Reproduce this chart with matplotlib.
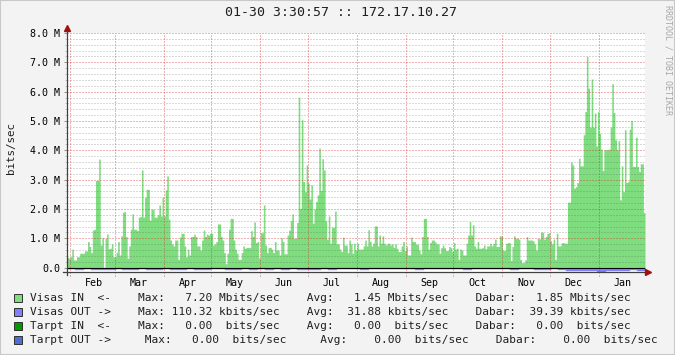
import numpy as np
import matplotlib
matplotlib.use("Agg")
import matplotlib.pyplot as plt
import matplotlib.dates as mdates
from matplotlib.patches import Rectangle

# daily "Visas IN" traffic, Mbits/sec (one value per day from 01-30)
visas_in = [
    0.35, 0.32, 0.37, 0.63, 0.26, 0.26, 0.37, 0.37, 0.49, 0.49, 0.49, 0.57, 0.57, 0.89, 0.72,
    0.51, 1.28, 1.31, 2.97, 2.97, 3.70, 0.77, 1.02, 0.00, 0.99, 1.15, 0.64, 0.66, 0.81, 0.37,
    0.37, 0.52, 0.89, 0.43, 1.08, 1.89, 1.91, 1.06, 0.32, 0.74, 1.31, 1.83, 1.31, 1.31, 1.26,
    1.72, 1.74, 3.33, 1.72, 2.40, 2.67, 2.67, 1.62, 1.99, 1.99, 1.72, 1.72, 1.80, 2.14, 1.76,
    2.40, 1.76, 2.65, 3.13, 1.65, 0.94, 0.81, 0.74, 0.94, 0.94, 0.28, 1.04, 1.17, 1.17,
    0.74, 0.37, 0.63, 0.43, 1.06, 1.06, 1.14, 1.06, 0.74, 0.74, 0.60, 0.94, 1.28, 1.06, 1.14,
    1.11, 1.17, 1.17, 0.77, 0.81, 0.89, 1.49, 1.49, 1.06, 0.94, 0.51, 0.13, 0.49, 1.31, 1.68,
    1.68, 0.94, 0.63, 0.49, 0.28, 0.28, 0.51, 0.74, 0.66, 0.69, 0.69, 0.68, 1.26, 1.06, 1.56,
    0.85, 0.89, 0.32, 1.19, 1.19, 2.14, 0.77, 0.51, 0.69, 0.69, 0.63, 0.51, 0.89, 0.60, 0.60,
    0.43, 1.02, 0.89, 0.47, 0.47, 1.11, 1.28, 1.60, 1.83, 1.00, 1.00, 1.54,
    5.81, 2.02, 5.04, 2.94, 2.59, 3.50, 2.88, 2.34, 2.82, 1.51, 2.00, 2.25, 2.48, 4.07, 2.63,
    3.71, 3.33, 1.60, 0.97, 1.76, 0.83, 1.38, 1.37, 1.93, 0.81, 0.81, 0.63, 0.55, 1.04, 0.77,
    0.77, 0.51, 0.94, 0.81, 0.49, 0.83, 0.60, 0.83, 0.63, 0.63, 0.63, 0.74, 0.94, 0.74, 1.29,
    0.90, 0.74, 0.83, 1.42, 1.42, 0.74, 1.11, 0.83, 1.08, 0.83, 0.77, 0.83, 0.83, 0.77, 0.81,
    0.69, 0.81, 0.66, 0.55, 0.55, 0.74, 0.89, 0.58, 0.74, 0.43, 0.43, 1.04, 0.89, 0.89,
    0.80, 0.80, 0.60, 0.47, 1.06, 1.68, 1.68, 1.06, 0.63, 0.85, 0.94, 0.94, 0.88, 0.81, 0.81,
    0.49, 0.68, 0.77, 0.68, 0.58, 0.58, 0.72, 0.68, 0.55, 0.85, 0.63, 0.66, 0.28, 0.63, 0.60,
    0.43, 0.43, 0.83, 1.11, 1.57, 1.11, 1.46, 0.74, 0.66, 0.89, 0.66, 0.66, 0.68, 0.77, 0.64,
    0.74, 0.74, 0.83, 0.74, 0.83, 0.97, 0.72, 0.72, 1.08, 1.08, 0.60, 0.58, 0.83, 0.85, 0.85,
    0.24, 0.72, 1.08, 1.00, 1.00, 0.97, 0.28, 0.17, 0.17, 0.26, 1.06, 0.94, 0.94,
    0.94, 0.91, 0.81, 0.60, 1.00, 0.98, 1.21, 1.21, 0.97, 1.06, 1.17, 1.19, 0.92, 0.81, 0.97,
    0.28, 1.17, 0.74, 0.74, 0.85, 0.85, 0.83, 0.83, 2.23, 2.23, 3.60, 3.50, 2.71, 2.76, 2.90,
    3.73, 3.47, 3.47, 4.53, 5.32, 7.20, 6.12, 4.79, 6.43, 4.79, 5.27, 4.15, 5.32, 4.58, 4.04,
    3.31, 4.02, 4.02, 4.02, 4.04, 4.79, 6.27, 5.29, 4.36, 4.02, 4.33, 2.31, 3.47, 2.59, 4.70,
    2.90, 2.94, 4.72, 5.02, 3.45, 3.45, 4.45, 3.45, 3.28, 3.54, 3.54, 1.88,
]

# "Visas OUT" traffic, kbits/sec, 5-day averages (drawn below zero)
visas_out = [
    30, 35, 20, 40, 45, 35, 15, 40, 35, 30, 45, 40, 10, 35, 40,
    30, 40, 35, 0, 30, 35, 40, 25, 35, 30, 40, 0, 35, 30, 40,
    45, 50, 30, 35, 0, 30, 25, 35, 30, 20, 30, 0, 25, 30, 35,
    30, 25, 20, 0, 30, 35, 25, 30, 0, 25, 30, 35, 30, 25, 40, 35,
    30, 60, 70, 65, 80, 75, 110, 70, 85, 80, 60, 65,
]
out_step_days = 5

y_ticks = [0, 1, 2, 3, 4, 5, 6, 7, 8]
legend_colors = ["#7FDC7F", "#8080FF", "#009900", "#4F6FCF"]
legend_rows = [
    "Visas IN  <-    Max:   7.20 Mbits/sec    Avg:   1.45 Mbits/sec    Dabar:   1.85 Mbits/sec",
    "Visas OUT ->    Max: 110.32 kbits/sec    Avg:  31.88 kbits/sec    Dabar:  39.39 kbits/sec",
    "Tarpt IN  <-    Max:   0.00  bits/sec    Avg:   0.00  bits/sec    Dabar:   0.00  bits/sec",
    "Tarpt OUT ->     Max:   0.00  bits/sec     Avg:    0.00  bits/sec    Dabar:    0.00  bits/sec",
]
title = "01-30 3:30:57 :: 172.17.10.27"
start = np.datetime64("2006-01-30")
end = start + np.timedelta64(365, "D")

MONO = "DejaVu Sans Mono"
W, H = 675, 355
plt.rcParams["lines.scale_dashes"] = False

fig = plt.figure(figsize=(W / 100, H / 100), dpi=100, facecolor="#F3F3F3")
ax = fig.add_axes([67 / W, 1 - 272 / H, 578 / W, 239 / H])
ax.set_facecolor("white")

# data
x_in = start + np.arange(len(visas_in) + 1).astype("timedelta64[D]")
ax.fill_between(x_in, np.append(visas_in, visas_in[-1]), step="post",
                color=legend_colors[0], lw=0, zorder=1)
x_out = start + (np.arange(len(visas_out) + 1) * out_step_days).astype("timedelta64[D]")
out_m = -np.array(visas_out + [visas_out[-1]]) / 1000.0
ax.fill_between(x_out, out_m, step="post", facecolor=legend_colors[1],
                edgecolor=legend_colors[1], lw=1.0, zorder=1)

ax.set_xlim(start, end)
ax.set_ylim(-0.15, 8.0)

# dotted grid drawn on top of the data, like rrdtool
dots = (0, (1.44, 1.44))
minor_col = (0.35, 0.35, 0.35, 0.22)
major_col = (0.85, 0.15, 0.15, 0.35)
for v in np.arange(0.2, 8.01, 0.2):
    if abs(v - round(v)) > 1e-6:
        ax.axhline(v, color=minor_col, ls=dots, lw=0.72, antialiased=False, zorder=2)
for v in y_ticks[1:]:
    ax.axhline(v, color=major_col, ls=dots, lw=0.72, antialiased=False, zorder=2)
month_starts = np.arange(np.datetime64("2006-02"), np.datetime64("2007-02"),
                         np.timedelta64(1, "M")).astype("datetime64[D]")
for m in month_starts:
    ax.axvline(mdates.date2num(m), ymin=-0.015, color=major_col, ls=dots,
               lw=0.72, antialiased=False, zorder=2, clip_on=False)
ax.axhline(0, color="black", lw=0.7, zorder=4)

ax.set_yticks(y_ticks)
ax.set_yticks(np.arange(0, 8.01, 0.2), minor=True)
ax.yaxis.set_major_formatter(plt.FuncFormatter(lambda v, p: "0.0" if v == 0 else f"{v:.1f} M"))
ax.xaxis.set_major_locator(mdates.MonthLocator())
ax.xaxis.set_major_formatter(plt.NullFormatter())
ax.xaxis.set_minor_locator(mdates.MonthLocator(bymonthday=16))
ax.xaxis.set_minor_formatter(mdates.DateFormatter("%b"))

for s in ax.spines.values():
    s.set_visible(False)

ax.tick_params(axis="y", which="major", length=2.2, width=0.7, color="#909090",
               pad=2.8, labelsize=7.2, labelfontfamily=MONO)
ax.tick_params(axis="y", which="minor", length=1.4, width=0.7, color="#C0C0C0")
ax.tick_params(axis="x", which="major", length=0)
ax.tick_params(axis="x", which="minor", length=0, pad=4.5, labelsize=7.2,
               labelfontfamily=MONO)

# axes with arrows
ax.plot([0, 0], [-0.013, 1.018], transform=ax.transAxes, color="#404040",
        lw=0.9, clip_on=False, zorder=6)
ax.plot([-0.007, 1.004], [0, 0], transform=ax.transAxes, color="#404040",
        lw=0.9, clip_on=False, zorder=6)
ax.plot([0], [1.02], marker="^", color="#A01010", markersize=4.2,
        transform=ax.transAxes, clip_on=False, zorder=7)
ax.plot([1.006], [0], marker=">", color="#A01010", markersize=4.2,
        transform=ax.transAxes, clip_on=False, zorder=7)

# texts
fig.text(341 / W, 1 - 13 / H, title, ha="center", va="center",
         fontsize=9.5, family=MONO, color="#202020")
fig.text(11 / W, 1 - 148 / H, "bits/sec", rotation=90, ha="center", va="center",
         fontsize=7.8, family=MONO, color="#202020")
fig.text(668 / W, 1 - 60 / H, "RRDTOOL / TOBI OETIKER", rotation=270,
         ha="center", va="center", fontsize=6, family=MONO, color="#A8A8A8")

# legend
for i, (txt, col) in enumerate(zip(legend_rows, legend_colors)):
    yc = 298 + 14 * i
    fig.add_artist(Rectangle((14 / W, 1 - (yc + 4) / H), 8 / W, 8 / H,
                             transform=fig.transFigure, facecolor=col,
                             edgecolor="#303030", lw=0.7))
    fig.text(30 / W, 1 - yc / H, txt, ha="left", va="center",
             fontsize=8, family=MONO, color="#202020")

fig.add_artist(Rectangle((0, 0), 1, 1, transform=fig.transFigure, fill=False,
                         edgecolor="#C8C8C8", lw=1.5))

fig.savefig("out.png", dpi=100, facecolor=fig.get_facecolor())
